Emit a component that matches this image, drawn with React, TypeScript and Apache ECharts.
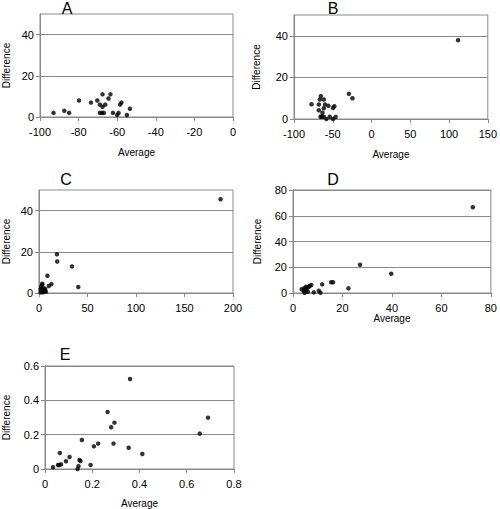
import React, { useEffect, useRef } from "react";
import * as echarts from "echarts";

const aX = [-93, -87.4, -84.9, -79.8, -73.6, -70.3, -69, -67.6, -67.6, -69, -67.9, -66.9, -66.2, -64.5, -63.5, -62.2, -60, -59.3, -58.5, -57.8, -55, -53.4];
const aY = [2, 3, 2, 8, 7, 8, 6, 11, 5, 2, 2, 2, 6, 9, 11, 2, 1, 2, 6, 7, 1, 4];

const bX = [-77.4, -65.4, -66.7, -61.6, -68, -68, -59.9, -61.6, -63.3, -65.8, -64.2, -61.6, -58.2, -55.6, -53.9, -49.7, -48, -49.7, -46.3, -29.2, -24.6, 111.6];
const bY = [7.1, 11, 9.4, 9.4, 7, 4.2, 7, 5.2, 3, 1.1, 1.1, 1.1, 0, 6.3, 1.1, 5.3, 6.1, 0, 1, 12.1, 10, 37.9];

const cX = [2.3, 3.3, 1.6, 2.7, 3.7, 4.7, 6, 7.1, 1.6, 4, 5.4, 6.4, 3.4, 8.7, 12.8, 10.1, 18.5, 18.8, 34, 40.5, 187.2];
const cY = [3.2, 3.9, 1.9, 1.1, 1.6, 0.8, 1.1, 0.6, 0.3, 0.3, 2.2, 1.9, 4.5, 8.4, 4.3, 3.4, 18.8, 15.3, 12.9, 2.9, 45.5];

const dX = [3.5, 4.3, 4.7, 5.1, 5.6, 6.2, 6.7, 7.4, 6, 8.4, 10.4, 11.1, 11.8, 15.4, 16.2, 22.4, 27.1, 39.7, 72.7, 4.5, 5.3];
const dY = [2.9, 1.8, 0.2, 2.3, 3.6, 4.4, 5.4, 6.2, 1, 0.5, 1.8, 0.2, 6.7, 8.3, 8.3, 3.6, 21.9, 15, 66.6, 3.8, 4.9];

const eX = [0.034, 0.055, 0.06, 0.068, 0.063, 0.089, 0.104, 0.138, 0.142, 0.146, 0.15, 0.156, 0.193, 0.207, 0.225, 0.265, 0.28, 0.29, 0.294, 0.354, 0.36, 0.412, 0.655, 0.69];
const eY = [0.01, 0.023, 0.023, 0.027, 0.093, 0.045, 0.07, 0, 0.017, 0.052, 0.047, 0.169, 0.023, 0.132, 0.148, 0.332, 0.243, 0.148, 0.27, 0.124, 0.524, 0.087, 0.206, 0.299];

const panelLabels = ["A", "B", "C", "D", "E"];
const xRanges = [[-100, 0, 20], [-100, 150, 50], [0, 200, 50], [0, 80, 20], [0, 0.8, 0.2]];
const yRanges = [[0, 50, 20], [0, 50, 20], [0, 50, 20], [0, 80, 20], [0, 0.6, 0.2]];
const yTickValues = [[0, 20, 40], [0, 20, 40], [0, 20, 40], [0, 20, 40, 60, 80], [0, 0.2, 0.4, 0.6]];
const xNames = ["Average", "Average", "", "Average", "Average"];
const yName = "Difference";

const FONT = "Liberation Sans";

export default function App() {
  const ref = useRef<HTMLDivElement>(null);
  useEffect(() => {
    document.body.style.margin = "0";
    const chart = echarts.init(ref.current!, null, { renderer: "svg" });
    const grids = [
      { left: 35, top: 14, width: 198, height: 103 },
      { left: 294, top: 15, width: 195, height: 104 },
      { left: 35, top: 190, width: 198, height: 103 },
      { left: 293, top: 190, width: 200, height: 103 },
      { left: 39, top: 366, width: 195, height: 103 },
    ];
    const titlePos = [
      { x: 67, y: 0 },
      { x: 333, y: 0 },
      { x: 66, y: 171 },
      { x: 333, y: 171 },
      { x: 65, y: 346 },
    ];
    const xNameGap = [30, 30, 30, 20, 29];
    const yNameGap = [29, 33, 28, 31, 34];
    const xsData = [aX, bX, cX, dX, eX];
    const ysData = [aY, bY, cY, dY, eY];
    const axisLineStyle = { color: "#888", width: 1 };
    const option: any = {
      animation: false,
      backgroundColor: "#fff",
      textStyle: { fontFamily: FONT },
      title: panelLabels.map((t, i) => ({
        text: t,
        left: titlePos[i].x,
        top: titlePos[i].y,
        textAlign: "center",
        padding: 0,
        textStyle: { fontFamily: FONT, fontSize: 16, fontWeight: "normal", color: "#000", lineHeight: 16 },
      })),
      grid: grids.map((g) => ({
        ...g,
        show: true,
        borderColor: "#888",
        borderWidth: 1,
        backgroundColor: "transparent",
        containLabel: false,
      })),
      xAxis: xRanges.map((r, i) => ({
        type: "value",
        gridIndex: i,
        min: r[0],
        max: r[1],
        interval: r[2],
        name: xNames[i],
        nameLocation: "middle",
        nameGap: xNameGap[i],
        nameTextStyle: { fontFamily: FONT, fontSize: 10, color: "#000" },
        axisLine: { show: true, onZero: false, lineStyle: axisLineStyle },
        axisTick: { show: true, inside: false, length: 4, lineStyle: axisLineStyle },
        axisLabel: { fontFamily: FONT, fontSize: 11, color: "#000", margin: 9 },
        splitLine: { show: false },
      })),
      yAxis: yRanges.map((r, i) => ({
        type: "value",
        gridIndex: i,
        min: r[0],
        max: r[1],
        interval: r[2],
        name: yName,
        nameLocation: "middle",
        nameGap: yNameGap[i],
        nameTextStyle: { fontFamily: FONT, fontSize: 10, color: "#000" },
        axisLine: { show: true, onZero: false, lineStyle: axisLineStyle },
        axisTick: { show: true, length: 4, lineStyle: axisLineStyle, customValues: yTickValues[i] },
        axisLabel: { fontFamily: FONT, fontSize: 11, color: "#000", margin: 6, customValues: yTickValues[i] },
        splitLine: { show: true, lineStyle: { color: "#888", width: 1 } },
      })),
      series: xsData.map((xs, i) => ({
        type: "scatter",
        xAxisIndex: i,
        yAxisIndex: i,
        symbol: "circle",
        symbolSize: 4.5,
        itemStyle: { color: "#000" },
        data: xs.map((x, j) => [x, ysData[i][j]]),
      })),
    };
    chart.setOption(option);
    return () => chart.dispose();
  }, []);
  return <div ref={ref} style={{ width: 500, height: 509 }} />;
}
